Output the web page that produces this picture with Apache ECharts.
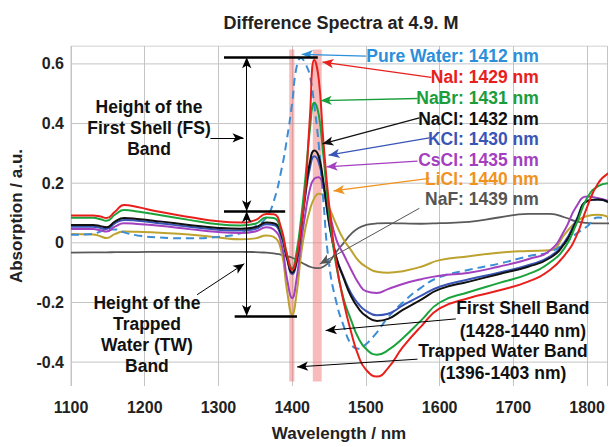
<!DOCTYPE html>
<html><head><meta charset="utf-8">
<script src="https://cdn.jsdelivr.net/npm/echarts@6/dist/echarts.min.js"></script>
<style>html,body{margin:0;padding:0;background:#fff}#c{width:610px;height:447px}</style>
</head><body><div id="c"></div>
<script>
// ---- data ----
const wavelengths = [1100,1130,1140,1148,1160,1172,1190,1220,1260,1300,1330,1350,1365,1375,1385,1393,1400,1406,1412,1418,1424,1430,1436,1442,1450,1460,1470,1480,1490,1500,1515,1530,1550,1575,1600,1640,1680,1720,1750,1770,1785,1800,1815,1830];
const pureWater = [0.027,0.030,0.038,0.045,0.045,0.035,0.025,0.018,0.015,0.020,0.032,0.055,0.085,0.14,0.24,0.35,0.47,0.59,0.62,0.60,0.56,0.46,0.33,0.15,-0.07,-0.20,-0.28,-0.34,-0.355,-0.34,-0.30,-0.25,-0.20,-0.15,-0.115,-0.09,-0.07,-0.045,-0.03,0.0,0.03,0.055,0.085,0.08];
const naI = [0.092,0.092,0.088,0.083,0.105,0.127,0.12,0.104,0.087,0.072,0.068,0.076,0.097,0.096,0.05,-0.04,-0.09,-0.05,0.05,0.18,0.42,0.613,0.55,0.35,0.13,-0.07,-0.2,-0.3,-0.38,-0.425,-0.448,-0.42,-0.35,-0.28,-0.22,-0.185,-0.16,-0.13,-0.09,-0.04,0.02,0.12,0.2,0.235];
const naBr = [0.084,0.084,0.079,0.074,0.095,0.11,0.105,0.093,0.077,0.062,0.058,0.064,0.085,0.083,0.04,-0.04,-0.085,-0.03,0.08,0.22,0.38,0.47,0.43,0.3,0.1,-0.08,-0.19,-0.26,-0.32,-0.355,-0.375,-0.36,-0.32,-0.26,-0.2,-0.165,-0.135,-0.105,-0.065,-0.015,0.06,0.15,0.19,0.2];
const naCl = [0.06,0.06,0.056,0.052,0.072,0.083,0.08,0.072,0.06,0.05,0.047,0.052,0.068,0.066,0.03,-0.05,-0.1,-0.06,0.05,0.17,0.27,0.31,0.29,0.21,0.07,-0.05,-0.12,-0.18,-0.22,-0.245,-0.262,-0.255,-0.225,-0.19,-0.155,-0.13,-0.105,-0.08,-0.05,0.0,0.07,0.14,0.145,0.135];
const kCl = [0.054,0.054,0.05,0.046,0.066,0.077,0.074,0.066,0.054,0.044,0.041,0.046,0.062,0.06,0.022,-0.055,-0.105,-0.065,0.04,0.16,0.25,0.29,0.27,0.2,0.065,-0.05,-0.115,-0.17,-0.205,-0.228,-0.243,-0.238,-0.21,-0.177,-0.147,-0.122,-0.1,-0.075,-0.045,0.005,0.075,0.14,0.145,0.135];
const csCl = [0.046,0.046,0.042,0.038,0.055,0.066,0.063,0.057,0.046,0.036,0.033,0.038,0.052,0.045,0.0,-0.12,-0.185,-0.12,0.0,0.1,0.18,0.215,0.22,0.19,0.11,0.01,-0.04,-0.09,-0.135,-0.162,-0.168,-0.155,-0.138,-0.122,-0.11,-0.1,-0.08,-0.055,-0.025,0.045,0.12,0.155,0.15,0.14];
const liCl = [0.03,0.028,0.022,0.016,0.03,0.038,0.037,0.034,0.028,0.018,0.012,0.015,0.025,0.02,-0.025,-0.16,-0.24,-0.17,-0.04,0.05,0.11,0.15,0.165,0.16,0.12,0.06,0.01,-0.025,-0.06,-0.08,-0.097,-0.1,-0.095,-0.08,-0.058,-0.045,-0.033,-0.027,-0.025,0.03,0.07,0.09,0.094,0.085];
const naF = [-0.033,-0.032,-0.032,-0.032,-0.031,-0.031,-0.031,-0.03,-0.03,-0.03,-0.03,-0.031,-0.033,-0.035,-0.04,-0.045,-0.05,-0.057,-0.065,-0.073,-0.08,-0.084,-0.085,-0.08,-0.065,-0.03,0.0,0.03,0.05,0.06,0.065,0.066,0.065,0.064,0.066,0.07,0.085,0.097,0.097,0.085,0.072,0.067,0.065,0.065];

const seriesNames = ['Pure Water','NaI','NaBr','NaCl','KCl','CsCl','LiCl','NaF'];
const peakLabels = ['Pure Water: 1412 nm','NaI: 1429 nm','NaBr: 1431 nm','NaCl: 1432 nm','KCl: 1430 nm','CsCl: 1435 nm','LiCl: 1440 nm','NaF: 1439 nm'];
const xTickValues = [1100,1200,1300,1400,1500,1600,1700,1800];
const yTickValues = [-0.4,-0.2,0,0.2,0.4,0.6];
const trappedWaterBand = [1396,1403];
const firstShellBand = [1428,1440];

// ---- styling ----
const FONT = '"Liberation Sans", Arial, Helvetica, sans-serif';
const curveColors = ['#3b8ed6','#e8201c','#1aa33c','#111111','#3a55b8','#a340c0','#bda22e','#5a5a5a'];
const labelColors = ['#2b8fd9','#e8201c','#1a9e3c','#111111','#3a55b8','#a340c0','#f0921e','#555555'];
const seriesData = [pureWater,naI,naBr,naCl,kCl,csCl,liCl,naF];
const X_MIN = 1100, X_MAX = 1827, Y_MIN = -0.48, Y_MAX = 0.66, Y_STEP = 0.04;
const GRID_STYLE = {color:'#c4c4c4', width:1, type:'solid'};

const chart = echarts.init(document.getElementById('c'), null, {renderer:'svg'});

function pairs(ys){ return wavelengths.map((w,i)=>[w, ys[i]]); }

const labelArrows = [
  [[1500,0.626],[1413,0.632]],
  [[1588.6,0.555],[1441,0.606]],
  [[1569.9,0.484],[1438.7,0.477]],
  [[1572.6,0.419],[1441,0.332]],
  [[1586,0.352],[1449.4,0.294]],
  [[1570,0.274],[1446.7,0.255]],
  [[1586,0.216],[1456,0.174]],
  [[1572.6,0.116],[1437.3,-0.071]]
];
const labelPos = [[1734.5,0.626],[1734.5,0.555],[1734.5,0.487],[1734.5,0.416],[1734.5,0.348],[1734.5,0.277],[1734.5,0.213],[1734.5,0.148]];

function arrow(a,b,color,width,sym0,sym1){
  const ls = {color:color,width:width,type:'solid'};
  return [{coord:a,symbol:sym0,symbolSize:[7,11],lineStyle:ls},{coord:b,symbol:sym1,symbolSize:[7,11],lineStyle:ls}];
}

const annLines = [];
labelArrows.forEach((p,i)=>annLines.push(arrow(p[0],p[1],labelColors[i], i===7?1:1.3,'none','arrow')));
const xH = 1338.3;
annLines.push(arrow([1307.5,0.622],[1434.7,0.622],'#000',2.5,'none','none'));
annLines.push(arrow([1307.5,0.106],[1390.5,0.106],'#000',2.5,'none','none'));
annLines.push(arrow([1322,-0.245],[1406.5,-0.245],'#000',2.5,'none','none'));
annLines.push(arrow([xH,0.622],[xH,0.106],'#000',1,'arrow','arrow'));
annLines.push(arrow([xH,0.106],[xH,-0.245],'#000',1,'arrow','arrow'));
annLines.push(arrow([1289,0.352],[1334,0.352],'#000',1,'none','arrow'));
annLines.push(arrow([1271,-0.174],[1335,-0.07],'#000',1,'none','arrow'));
annLines.push(arrow([1622,-0.255],[1445.4,-0.294],'#000',1,'none','arrow'));
annLines.push(arrow([1569.9,-0.39],[1406.6,-0.416],'#000',1,'none','arrow'));

const series = [];
// horizontal grid lines (labelled y ticks + top box edge) and left box edge
yTickValues.concat([Y_MAX]).forEach(v=>{
  series.push({type:'line', data:[[X_MIN,v],[X_MAX,v]], symbol:'none', silent:true, z:0, animation:false,
    lineStyle:GRID_STYLE});
});
series.push({type:'line', data:[[X_MIN,Y_MIN],[X_MIN,Y_MAX]], symbol:'none', silent:true, z:0, animation:false,
  lineStyle:GRID_STYLE});
series.push({type:'line', data:[[X_MIN,0]], symbol:'none', lineStyle:{opacity:0}, z:1, silent:true,
  markArea:{silent:true, itemStyle:{color:'rgba(240,120,120,0.5)'}, animation:false,
    data:[[{coord:[trappedWaterBand[0],-0.465]},{coord:[trappedWaterBand[1],0.648]}],
          [{coord:[firstShellBand[0],-0.465]},{coord:[firstShellBand[1],0.648]}]]}
});
const order = [7,6,0,5,4,3,2,1];
order.forEach(i=>{
  series.push({name:seriesNames[i], type:'line', data:pairs(seriesData[i]), symbol:'none', smooth:0.5,
    z:3, lineStyle:{color:curveColors[i], width: i===7?1.8:2, type: i===0?[8,5]:'solid'}});
});
series.push({type:'line', data:[[X_MIN,0]], symbol:'none', lineStyle:{opacity:0}, z:5, silent:true,
  markLine:{silent:true, label:{show:false}, animation:false, data:annLines}});

chart.setOption({
  animation:false,
  grid:{left:67, right:0, top:46, bottom:47, containLabel:false},
  xAxis:{type:'value', min:X_MIN, max:X_MAX, interval:100,
    name:'Wavelength / nm', nameLocation:'middle', nameGap:39,
    nameTextStyle:{fontFamily:FONT, fontWeight:'bold', fontSize:17, color:'#222'},
    axisLine:{show:false}, axisTick:{show:false},
    axisLabel:{margin:13, fontFamily:FONT, fontWeight:'bold', fontSize:16, color:'#222',
      formatter:v=> (xTickValues.indexOf(Math.round(v))>=0 ? String(Math.round(v)) : '')},
    splitLine:{show:true, lineStyle:GRID_STYLE}},
  yAxis:{type:'value', min:Y_MIN, max:Y_MAX, interval:Y_STEP,
    name:'Absorption / a.u.', nameLocation:'middle', nameGap:46, nameRotate:90,
    nameTextStyle:{fontFamily:FONT, fontWeight:'bold', fontSize:17, color:'#222'},
    axisLine:{show:false}, axisTick:{show:false}, splitLine:{show:false},
    axisLabel:{margin:7, fontFamily:FONT, fontWeight:'bold', fontSize:16, color:'#222',
      formatter:v=>{ const k=Math.round(v*100); if(k%20!==0||Math.abs(k)>60) return ''; return k===0?'0':String(k/100); }}},
  series:series
});

function px(p){ return chart.convertToPixel({gridIndex:0}, p); }
const graphics = [];
function txt(p, text, color, align, lh){
  const q = px(p);
  graphics.push({type:'text', x:q[0], y:q[1], z:10, silent:true,
    style:{text:text, fill:color, font:'bold 17.5px '+FONT, align:align, verticalAlign:'middle', textAlign:align, textVerticalAlign:'middle', lineHeight:lh||21}});
}
peakLabels.forEach((t,i)=>txt(labelPos[i], t, labelColors[i], 'right'));
txt([1205.8,0.384], 'Height of the\nFirst Shell (FS)\nBand', '#111', 'center', 21);
txt([1203,-0.308], 'Height of the\nTrapped\nWater (TW)\nBand', '#111', 'center', 21);
txt([1713,-0.2565], 'First Shell Band\n(1428-1440 nm)', '#111', 'center', 23);
txt([1686,-0.40], 'Trapped Water Band\n(1396-1403 nm)', '#111', 'center', 22);
graphics.push({type:'text', x:341, y:23, z:10, style:{text:'Difference Spectra at 4.9. M', fill:'#222', font:'bold 18px '+FONT, align:'center', verticalAlign:'middle', textAlign:'center', textVerticalAlign:'middle'}});
chart.setOption({graphic:graphics});
</script>
</body></html>
